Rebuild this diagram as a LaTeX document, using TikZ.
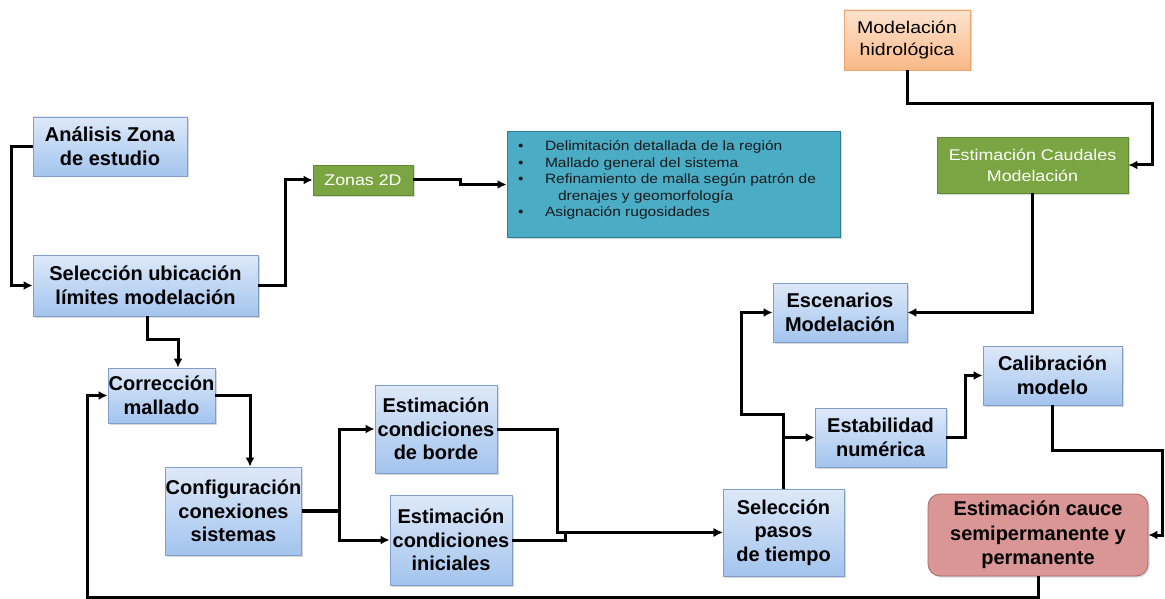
\documentclass[tikz,border=0pt]{standalone}
\usepackage{fontspec}
\setmainfont{Liberation Sans}
\newfontfamily\anchafont{Liberation Sans}[FakeStretch=1.15]
\definecolor{azulclaro}{HTML}{DEE9F9}
\definecolor{azulmedio}{HTML}{A3C4EE}
\definecolor{azulborde}{HTML}{7F9ECB}
\definecolor{verde}{HTML}{7BA542}
\definecolor{verdeborde}{HTML}{5F8A2F}
\definecolor{naranjaclaro}{HTML}{FDE3CF}
\definecolor{naranja}{HTML}{F9B886}
\definecolor{naranjaborde}{HTML}{EFA46E}
\definecolor{turquesa}{HTML}{4BACC6}
\definecolor{turquesaborde}{HTML}{2D7D93}
\definecolor{rosa}{HTML}{D99694}
\definecolor{rosaborde}{HTML}{A86B69}
\usetikzlibrary{arrows.meta,positioning,calc,shadows}
\newcommand{\vineta}{\makebox[27pt][l]{\textbullet}}

\begin{document}
\begin{tikzpicture}[x=1pt,y=-1pt,
    sombra/.style={drop shadow={shadow xshift=1.5pt,shadow yshift=-1.5pt,opacity=0.3}},
    caja/.style={draw=azulborde,line width=0.8pt,top color=azulclaro,bottom color=azulmedio,
        font=\bfseries\fontsize{20}{23.5}\selectfont,align=center,inner sep=0pt,sombra},
    cajaverde/.style={draw=verdeborde,line width=0.8pt,fill=verde,text=white,
        font=\anchafont\fontsize{15.5}{21}\selectfont,align=center,inner sep=0pt,sombra},
    cajanaranja/.style={draw=naranjaborde,line width=0.8pt,top color=naranjaclaro,bottom color=naranja,
        font=\anchafont\fontsize{17}{22}\selectfont,align=center,inner sep=0pt,sombra},
    cajaturquesa/.style={draw=turquesaborde,line width=1pt,fill=turquesa,text=black!90,
        font=\anchafont\fontsize{13.5}{16.5}\selectfont,inner xsep=11pt,inner ysep=9pt,sombra},
    cajarosa/.style={draw=rosaborde,line width=0.8pt,fill=rosa,rounded corners=12pt,
        font=\bfseries\fontsize{20}{24.5}\selectfont,align=center,inner sep=0pt,sombra},
    flujo/.style={line width=3pt,-{Latex[length=9pt,width=9pt]}},
    linea/.style={line width=3pt}]
    \path[use as bounding box,fill=white] (0,0) rectangle (1165,599);

    % cajas
    \node[caja,minimum width=154,minimum height=59] (analisis) at (110,146.5) {Análisis Zona\\de estudio};
    \node[caja,minimum width=225,minimum height=61] (seleccion) at (145.5,285.5) {Selección ubicación\\límites modelación};
    \node[cajaverde,minimum width=100,minimum height=30] (zonas) at (363,180) {Zonas 2D};
    \node[cajaturquesa,minimum width=333,minimum height=105] (lista) at (673.5,184.5) {\parbox[c][87pt][t]{311pt}{%
        \vineta Delimitación detallada de la región\\
        \vineta Mallado general del sistema\\
        \vineta Refinamiento de malla según patrón de\\
        \hspace*{40pt}drenajes y geomorfología\\
        \vineta Asignación rugosidades}};
    \node[cajanaranja,minimum width=126,minimum height=60] (hidro) at (907,40) {Modelación\\hidrológica};
    \node[cajaverde,minimum width=191,minimum height=56] (caudales) at (1032.5,165) {Estimación Caudales\\Modelación};
    \node[caja,minimum width=134,minimum height=59] (escenarios) at (840,312.5) {Escenarios\\Modelación};
    \node[caja,minimum width=139,minimum height=59] (calibracion) at (1052.5,375.5) {Calibración\\modelo};
    \node[caja,minimum width=131,minimum height=59] (estabilidad) at (880.5,437.5) {Estabilidad\\numérica};
    \node[caja,minimum width=121,minimum height=87] (pasos) at (783.5,532.5) {Selección\\pasos\\de tiempo};
    \node[cajarosa,minimum width=220,minimum height=82] (cauce) at (1038,535) {Estimación cauce\\semipermanente y\\permanente};
    \node[caja,minimum width=107,minimum height=55] (correccion) at (161.5,395.5) {Corrección\\mallado};
    \node[caja,minimum width=133,minimum height=88] (configuracion) at (233.5,511) {Configuración\\conexiones\\sistemas};
    \node[caja,minimum width=122,minimum height=88] (borde) at (436,429) {Estimación\\condiciones\\de borde};
    \node[caja,minimum width=122,minimum height=90] (iniciales) at (451,540) {Estimación\\condiciones\\iniciales};
    \coordinate (derecha) at (1162,450);

    % conexiones
    \draw[flujo] (analisis.west) -- ++(-21,0) |- (seleccion.west);
    \draw[flujo] (seleccion.east) -- ++(27,0) |- (zonas.west);
    \draw[flujo] (zonas.east) -- ++(47,0) |- (lista.west);
    \draw[flujo] ([xshift=1.5pt]seleccion.south) -- ++(0,23) -| ([xshift=16.5pt]correccion.north);
    \draw[flujo] (correccion.east) -| ([xshift=16.5pt]configuracion.north);
    \draw[linea,line width=4.5pt] (configuracion.east) -- ++(38,0) coordinate (reparto);
    \draw[flujo] (reparto) |- (borde.west);
    \draw[flujo] (reparto) |- (iniciales.west);
    \draw[flujo] (borde.east) -- ++(60,0) |- (pasos.west);
    \draw[flujo] (iniciales.east) -- ++(53,0) |- (pasos.west);
    \draw[flujo] (pasos.north) -- ++(0,-74) -- ++(-42,0) |- (escenarios.west);
    \draw[flujo] (pasos.north |- estabilidad.west) -- (estabilidad.west);
    \draw[flujo] (estabilidad.east) -- ++(19,0) |- (calibracion.west);
    \draw[flujo] (hidro.south) -- ++(0,33) -| ([xshift=24pt]caudales.east) -- (caudales.east);
    \draw[flujo] (caudales.south) |- (escenarios.east);
    \draw[flujo] (calibracion.south) |- (derecha) |- (cauce.east);
    \draw[flujo] (cauce.south) -- ++(0,21) -| ([xshift=-20pt]correccion.west) -- (correccion.west);
\end{tikzpicture}
\end{document}
